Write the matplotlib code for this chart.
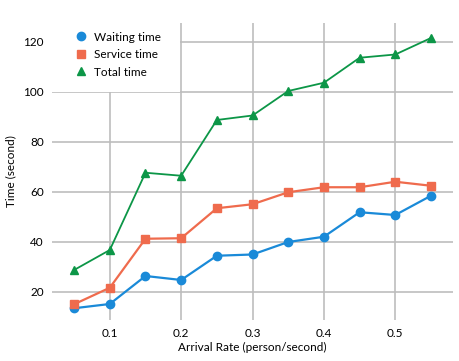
import matplotlib
matplotlib.use("Agg")
import matplotlib.pyplot as plt
from matplotlib.lines import Line2D
from matplotlib.patches import Rectangle

plt.rcParams['font.family'] = ['Lato', 'DejaVu Sans']

arrival_rate = [0.05, 0.10, 0.15, 0.20, 0.25, 0.30, 0.35, 0.40, 0.45, 0.50, 0.55]
waiting_time = [13.5, 15.2, 26.4, 24.8, 34.5, 35.0, 40.0, 42.1, 51.9, 50.8, 58.5]
service_time = [15.1, 21.7, 41.3, 41.5, 53.5, 55.1, 59.9, 61.9, 61.9, 64.1, 62.5]
total_time = [28.8, 36.8, 67.7, 66.5, 88.8, 90.6, 100.4, 103.7, 113.7, 115.0, 121.6]
x_ticks = [0.1, 0.2, 0.3, 0.4, 0.5]
y_ticks = [20, 40, 60, 80, 100, 120]

c_wait = '#1a8ad8'
c_serv = '#ef6b4d'
c_total = '#0c9647'

fig = plt.figure(figsize=(4.6, 3.61), dpi=100)
ax = fig.add_axes([0.113, 0.1136, 0.872, 0.8227])

ax.plot(arrival_rate, waiting_time, color=c_wait, marker='o', markersize=6, lw=1.6, label='Waiting time', zorder=3)
ax.plot(arrival_rate, service_time, color=c_serv, marker='s', markersize=6, lw=1.6, label='Service time', zorder=3)
ax.plot(arrival_rate, total_time, color=c_total, marker='^', markersize=6, lw=1.3, label='Total time', zorder=3)

ax.set_xlim(0.019, 0.581)
ax.set_ylim(8.8, 127.6)
ax.set_xticks(x_ticks)
ax.set_yticks(y_ticks)
ax.set_xticklabels([f'{v:.1f}' for v in x_ticks])
ax.grid(True, color='#bdbdbd', lw=1.2)
ax.set_axisbelow(True)
for s in ax.spines.values():
    s.set_visible(False)
ax.tick_params(length=0, labelsize=8.5, pad=6)
ax.set_xlabel('Arrival Rate (person/second)', fontsize=8.5, labelpad=2)
ax.set_ylabel('Time (second)', fontsize=8.5, labelpad=5)

# white legend area covering the grid
ax.add_patch(Rectangle((0.0, 0.768), 0.318, 0.232, transform=ax.transAxes,
                       facecolor='white', edgecolor='none', zorder=2))

handles = [Line2D([], [], color=c, marker=m, ls='none', markersize=6) for c, m in
           [(c_wait, 'o'), (c_serv, 's'), (c_total, '^')]]
leg = ax.legend(handles, ['Waiting time', 'Service time', 'Total time'], loc='upper left',
                bbox_to_anchor=(0.058, 0.971), frameon=False, fontsize=8.5,
                handlelength=1.0, handletextpad=0.6, labelspacing=0.55, borderpad=0.0,
                borderaxespad=0.0)
leg.set_zorder(5)

fig.savefig('out.png', dpi=100)
